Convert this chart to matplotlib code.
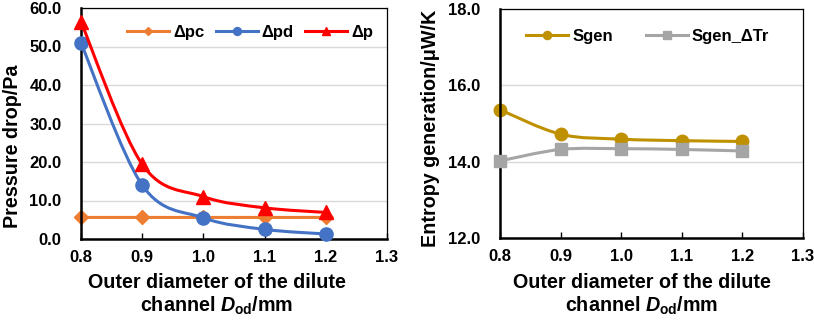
import matplotlib
matplotlib.use('Agg')
import matplotlib.pyplot as plt
from matplotlib.path import Path
from matplotlib.patches import PathPatch
from matplotlib.lines import Line2D

plt.rcParams['font.family'] = ['Liberation Sans', 'DejaVu Sans']
plt.rcParams['font.weight'] = 'bold'
plt.rcParams['mathtext.fontset'] = 'custom'
plt.rcParams['mathtext.rm'] = 'Liberation Sans:bold'
plt.rcParams['mathtext.bf'] = 'Liberation Sans:bold'
plt.rcParams['mathtext.it'] = 'Liberation Sans:bold:italic'

# data
d_od = [0.8, 0.9, 1.0, 1.1, 1.2]
dp_c = [5.6, 5.6, 5.6, 5.6, 5.6]
dp_d = [50.9, 14.0, 5.5, 2.5, 1.3]
dp_total = [56.4, 19.4, 11.0, 8.1, 6.9]
s_gen = [15.36, 14.72, 14.59, 14.55, 14.53]
s_gen_dtr = [14.02, 14.32, 14.34, 14.32, 14.28]

x_ticks = [0.8, 0.9, 1.0, 1.1, 1.2, 1.3]


def smooth_line(ax, xs, ys, color, lw=2.2, z=2):
    # excel-like smoothed line: catmull-rom segments as cubic beziers
    n = len(xs)
    pts = list(zip(xs, ys))
    verts = [pts[0]]
    codes = [Path.MOVETO]
    for i in range(n - 1):
        p0 = pts[max(i - 1, 0)]
        p1 = pts[i]
        p2 = pts[i + 1]
        p3 = pts[min(i + 2, n - 1)]
        c1 = (p1[0] + (p2[0] - p0[0]) / 6, p1[1] + (p2[1] - p0[1]) / 6)
        c2 = (p2[0] - (p3[0] - p1[0]) / 6, p2[1] - (p3[1] - p1[1]) / 6)
        verts += [c1, c2, p2]
        codes += [Path.CURVE4] * 3
    ax.add_patch(PathPatch(Path(verts, codes), fill=False, edgecolor=color,
                           lw=lw, zorder=z, capstyle='round', joinstyle='round'))


def style_axes(ax, ylim, yticks):
    ax.set_xlim(0.8, 1.3)
    ax.set_ylim(*ylim)
    ax.set_xticks(x_ticks)
    ax.set_xticklabels(['%.1f' % v for v in x_ticks])
    ax.set_yticks(yticks)
    ax.set_yticklabels(['%.1f' % v for v in yticks])
    ax.grid(axis='y', color='#d9d9d9', lw=1.0)
    ax.set_axisbelow(True)
    ax.tick_params(axis='x', direction='in', length=4, width=1.0, pad=8, labelsize=12)
    ax.tick_params(axis='y', direction='in', length=0, pad=14, labelsize=12)
    for s in ['left', 'bottom']:
        ax.spines[s].set_linewidth(1.8)
    for s in ['top', 'right']:
        ax.spines[s].set_linewidth(0.9)


fig = plt.figure(figsize=(8.14, 3.2), dpi=100)
W, H = 814, 320

# left panel
ax1 = fig.add_axes([81 / W, (H - 239) / H, (387 - 81) / W, (239 - 8) / H])
style_axes(ax1, (0, 60), [0, 10, 20, 30, 40, 50, 60])
series1 = [(dp_c, '#ED7D31', 'D', 7.5, 'Δpc'),
           (dp_d, '#4472C4', 'o', 9.5, 'Δpd'),
           (dp_total, '#FF0000', '^', 10, 'Δp')]
handles = []
for k, (ys, c, m, ms, lab) in enumerate(series1):
    smooth_line(ax1, d_od, ys, c, z=2 + k)
    ax1.plot(d_od, ys, ls='none', marker=m, ms=ms, color=c, zorder=2.5 + k, clip_on=False)
    handles.append(Line2D([], [], color=c, lw=2.2, marker=m, ms=ms * 0.6, label=lab))
ax1.legend(handles=handles, loc='upper center', bbox_to_anchor=(0.553, 0.99), ncol=3,
           frameon=False, fontsize=12, handlelength=2.5, handletextpad=0.25,
           columnspacing=0.7, borderaxespad=0.5)

# right panel
ax2 = fig.add_axes([500 / W, (H - 238) / H, (803 - 500) / W, (238 - 9) / H])
style_axes(ax2, (12, 18), [12, 14, 16, 18])
series2 = [(s_gen, '#BF9000', 'o', 9, 'Sgen'),
           (s_gen_dtr, '#A5A5A5', 's', 8, 'Sgen_ΔTr')]
handles = []
for k, (ys, c, m, ms, lab) in enumerate(series2):
    smooth_line(ax2, d_od, ys, c, z=2 + k)
    ax2.plot(d_od, ys, ls='none', marker=m, ms=ms, color=c, zorder=2.5 + k, clip_on=False)
    handles.append(Line2D([], [], color=c, lw=2.2, marker=m, ms=ms * 0.65, label=lab))
ax2.legend(handles=handles, loc='upper center', bbox_to_anchor=(0.488, 0.985), ncol=2,
           frameon=False, fontsize=12, handlelength=2.5, handletextpad=0.25,
           columnspacing=2.0, borderaxespad=0.6)

# axis labels
fig.text(13 / W, 1 - 146 / H, 'Pressure drop/Pa', rotation=90, ha='center', va='center',
         fontsize=14.2, fontweight='bold')
fig.text(431 / W, 1 - 128 / H, 'Entropy generation/μW/K', rotation=90, ha='center',
         va='center', fontsize=14.2, fontweight='bold')
for cx in [217, 642]:
    fig.text(cx / W, 1 - 283 / H, 'Outer diameter of the dilute', ha='center', va='center',
             fontsize=14.2, fontweight='bold')
    fig.text(cx / W, 1 - 306 / H, r'channel $D_{\mathrm{od}}$/mm', ha='center', va='center',
             fontsize=14.2, fontweight='bold')

fig.savefig('out.png', dpi=100)
